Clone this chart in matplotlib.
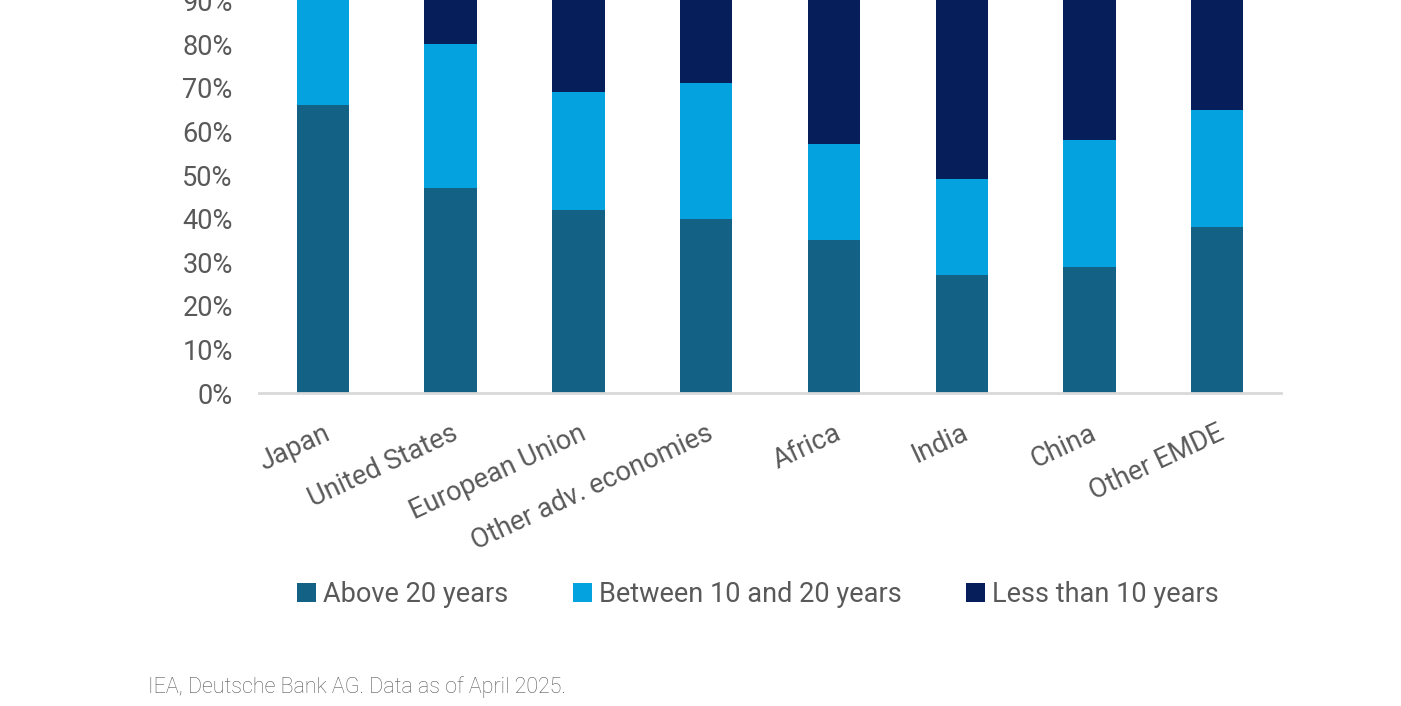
import numpy as np
import matplotlib
matplotlib.use('Agg')
from matplotlib import pyplot as plt
from matplotlib.ticker import PercentFormatter

regions = ['Japan', 'United States', 'European Union', 'Other adv. economies',
           'Africa', 'India', 'China', 'Other EMDE']
above_20 = [66, 47, 42, 40, 35, 27, 29, 38]
between_10_20 = [34, 33, 27, 31, 22, 22, 29, 27]
less_10 = [0, 20, 31, 29, 43, 51, 42, 35]

series_names = ['Above 20 years', 'Between 10 and 20 years', 'Less than 10 years']
colors = ['#136185', '#04A2DE', '#061E59']

plt.rcParams['font.family'] = ['Roboto', 'DejaVu Sans']
grey = '#595959'

fig = plt.figure(figsize=(14.01, 7.06), dpi=100)
ax = fig.add_axes([0.1849, 0.4433, 0.7295, 0.6176])

x = np.arange(len(regions))
w = 0.41
bottom = np.zeros(len(regions))
for vals, name, c in zip([above_20, between_10_20, less_10], series_names, colors):
    ax.bar(x, vals, w, bottom=bottom, color=c, label=name)
    bottom += np.array(vals)

ax.set_xlim(-0.5, len(regions) - 0.5)
ax.set_ylim(0, 100)
ax.set_yticks(np.arange(0, 101, 10))
ax.yaxis.set_major_formatter(PercentFormatter(decimals=0))
ax.set_xticks(x)
ax.set_xticklabels(regions, rotation=25, ha='right', rotation_mode='anchor')
ax.tick_params(axis='both', length=0, labelsize=19.5, labelcolor=grey)
ax.tick_params(axis='x', pad=19)
ax.tick_params(axis='y', pad=19)
for s in ['top', 'right', 'left']:
    ax.spines[s].set_visible(False)
ax.spines['bottom'].set_color('#d9d9d9')
ax.spines['bottom'].set_linewidth(2)

fig.legend(loc='center', bbox_to_anchor=(0.541, 0.158), ncol=3, frameon=False,
           fontsize=19.5, labelcolor=grey, handlelength=0.7, handleheight=0.7,
           handletextpad=0.25, columnspacing=2.4)

fig.text(0.1056, 0.018, 'IEA, Deutsche Bank AG. Data as of April 2025.',
         fontsize=15.5, color=grey, fontweight='light')

fig.savefig('out.png', dpi=100)
